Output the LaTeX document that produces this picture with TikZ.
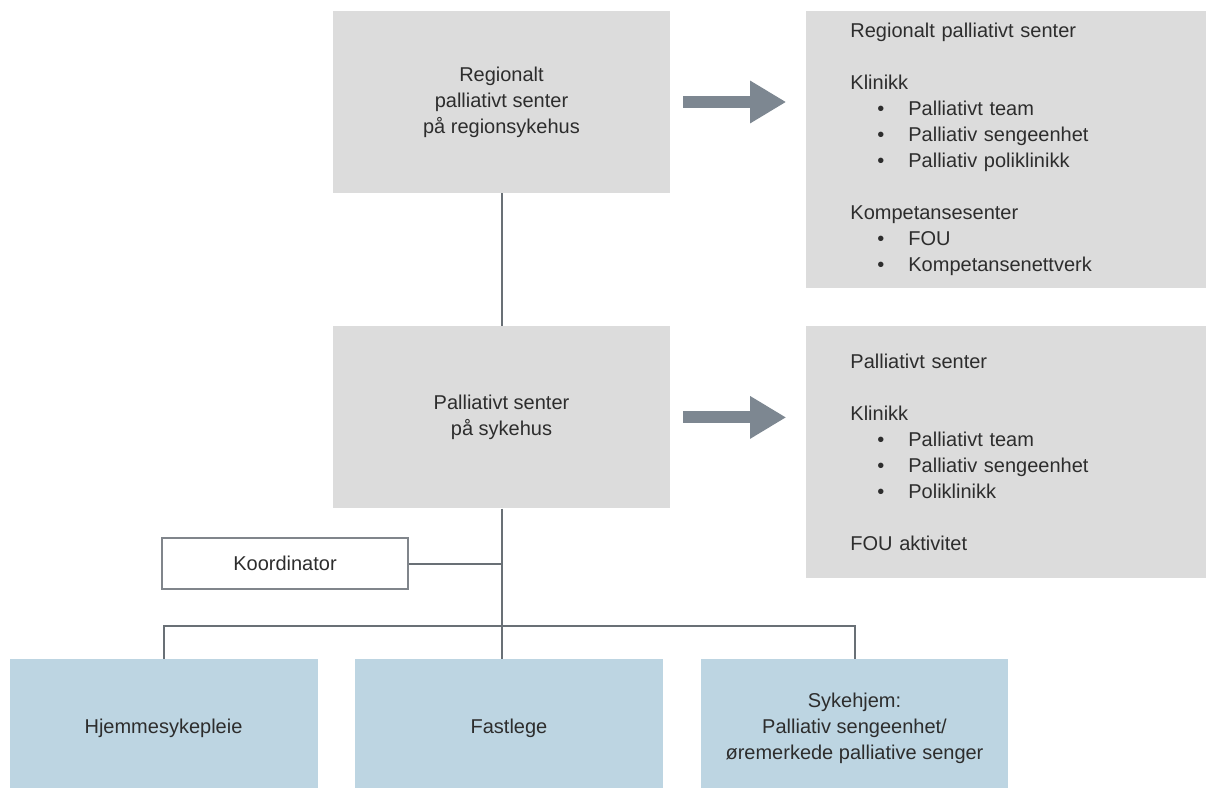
\documentclass[tikz,border=0pt]{standalone}
\usepackage{fontspec}
\setmainfont{Liberation Sans}
\usetikzlibrary{positioning,arrows.meta}
\definecolor{boxgray}{RGB}{220,220,220}
\definecolor{boxblue}{RGB}{189,213,226}
\definecolor{linegray}{RGB}{105,112,118}
\definecolor{arrowgray}{RGB}{125,135,145}
\definecolor{textgray}{RGB}{45,45,45}
\newcommand{\punkt}[1]{\hspace*{27pt}\makebox[31pt][l]{\textbullet}#1}

\begin{document}
\begin{tikzpicture}[
  x=1pt, y=-1pt,
  node distance=133pt,
  every node/.style={font=\fontsize{20}{26}\selectfont, text=textgray},
  unit/.style={
    rectangle, fill=boxgray, align=center, inner sep=0pt,
    minimum width=337pt, minimum height=182pt
  },
  info/.style={
    rectangle, fill=boxgray, align=left, inner xsep=44pt, inner ysep=0pt,
    text width=312pt
  },
  lower/.style={
    rectangle, fill=boxblue, align=center, inner sep=0pt,
    minimum width=308pt, minimum height=138pt
  },
  koord/.style={
    rectangle, draw=linegray!85, line width=2.5pt, fill=white,
    minimum width=246pt, minimum height=51pt
  },
  line/.style={draw=linegray, line width=2pt},
  bigarrow/.style={draw=arrowgray, line width=12pt, -{Triangle[length=36pt,width=40pt]}}
]
\clip (0,0) rectangle (1206,787);

\node (regsenter) [unit] at (501.5,102)
  {Regionalt\\ palliativt senter\\ på regionsykehus};

\node (reginfo) [info, minimum height=277pt, below right=0pt and 136pt of regsenter.north east]
  {Regionalt palliativt senter\\[26pt]
   Klinikk\\
   \punkt{Palliativt team}\\
   \punkt{Palliativ sengeenhet}\\
   \punkt{Palliativ poliklinikk}\\[26pt]
   Kompetansesenter\\
   \punkt{FOU}\\
   \punkt{Kompetansenettverk}};

\node (senter) [unit, below=of regsenter]
  {Palliativt senter\\ på sykehus};

\node (senterinfo) [info, minimum height=252pt, below right=0pt and 136pt of senter.north east]
  {Palliativt senter\\[26pt]
   Klinikk\\
   \punkt{Palliativt team}\\
   \punkt{Palliativ sengeenhet}\\
   \punkt{Poliklinikk}\\[26pt]
   FOU aktivitet};

\node (koordinator) [koord] at (285,563.5) {Koordinator};

\node (hjemme) [lower] at (163.5,728) {Hjemmesykepleie};
\node (fastlege) [lower] at (509,728) {Fastlege};
\node (sykehjem) [lower, minimum width=307pt] at (854.5,728)
  {Sykehjem:\\ Palliativ sengeenhet/\\ øremerkede palliative senger};

\draw[bigarrow] ([xshift=13pt]regsenter.east) -- ([xshift=-20pt]regsenter.east -| reginfo.west);
\draw[bigarrow] ([xshift=13pt]senter.east) -- ([xshift=-20pt]senter.east -| senterinfo.west);

\draw[line] (regsenter) -- (senter);
\draw[line] (senter.south) -- (senter.south |- fastlege.north);
\draw[line] (koordinator.east) -- (koordinator.east -| senter.south);
\draw[line] (hjemme.north) -- ++(0,-33) -| (sykehjem.north);
\end{tikzpicture}
\end{document}
